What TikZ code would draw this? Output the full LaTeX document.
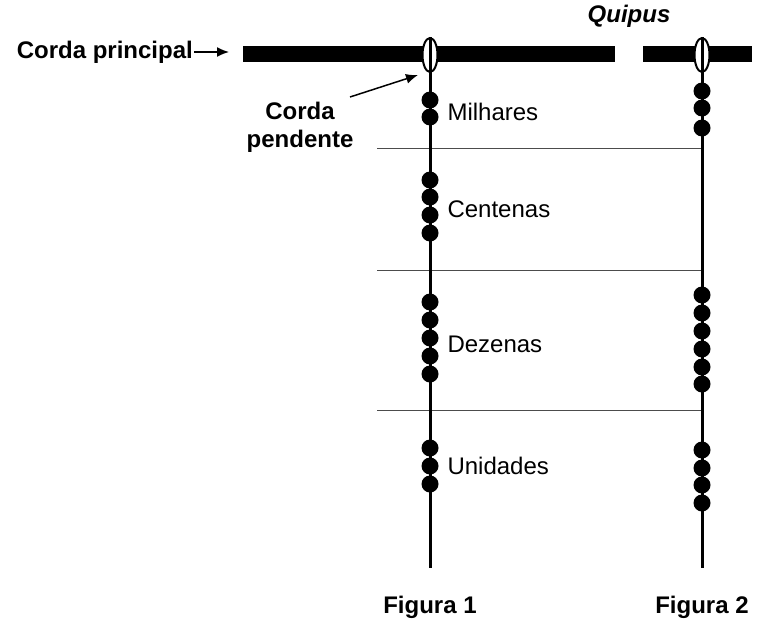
\documentclass[tikz,border=0pt]{standalone}
\usepackage{fontspec}
\usetikzlibrary{shapes.geometric,arrows.meta}
\setmainfont{Liberation Sans}
\begin{document}
\begin{tikzpicture}[x=1pt,y=-1pt,
  bead/.style={circle,fill=black,inner sep=0pt,minimum size=17pt},
  lbl/.style={anchor=west,font=\fontsize{24}{28}\selectfont},
  bl/.style={font=\fontsize{24}{28}\selectfont\bfseries},
  cord/.style={line width=3pt},
  arr/.style={-{Latex[length=12pt,width=10pt]},line width=1.5pt},
  loop/.style={draw,line width=2pt,ellipse,minimum width=15pt,minimum height=34pt,inner sep=0pt,fill=white},
  sep/.style={line width=0.6pt,black!70}]
\useasboundingbox (0,0) rectangle (773,632);
% main cord
\fill (243,46) rectangle (615,62);
\fill (643,46) rectangle (752,62);
\node[font=\fontsize{24}{28}\selectfont\bfseries\itshape] (q) at (629,16) {Quipus};
\node[bl,anchor=east,inner sep=1pt] (cp) at (194,52) {Corda principal};
\coordinate (cpe) at (229,52);
\draw[arr] (cp.east) -- (cpe);
% separators
\coordinate (s1a) at (377,148); \coordinate (s1b) at (702,148);
\coordinate (s2a) at (377,270); \coordinate (s2b) at (702,270);
\coordinate (s3a) at (377,410); \coordinate (s3b) at (702,410);
\draw[sep] (s1a)--(s1b); \draw[sep] (s2a)--(s2b); \draw[sep] (s3a)--(s3b);
% cords
\coordinate (f1t) at (430,45); \coordinate (f1b) at (430,568);
\coordinate (f2t) at (702,45); \coordinate (f2b) at (702,568);
\draw[cord] (f1t)--(f1b);
\draw[cord] (f2t)--(f2b);
\node[loop] (l1) at (430,55) {};
\node[loop] (l2) at (702,55) {};
\draw[cord] (l1.north)--(l1.south);
\draw[cord] (l2.north)--(l2.south);
% beads fig 1
\foreach \y in {100,117,180,197,215,233,302,320,338,356,374,448,466,484}
  \node[bead] at (430,\y) {};
% beads fig 2
\foreach \y in {91,108,128,295,313,331,349,367,384,450,468,485,503}
  \node[bead] at (702,\y) {};
\node[lbl] (m) at (444,112) {Milhares};
\node[lbl] (c) at (444,209) {Centenas};
\node[lbl] (d) at (444,344) {Dezenas};
\node[lbl] (u) at (444,466) {Unidades};
\node[bl,align=center] (pd) at (300,127) {Corda\\pendente};
\coordinate (pe) at (418,75);
\coordinate (ps) at (350,97);
\draw[arr] (ps) -- (pe);
\node[bl] (fg1) at (430,607) {Figura 1};
\node[bl] (fg2) at (702,607) {Figura 2};
\end{tikzpicture}
\end{document}
